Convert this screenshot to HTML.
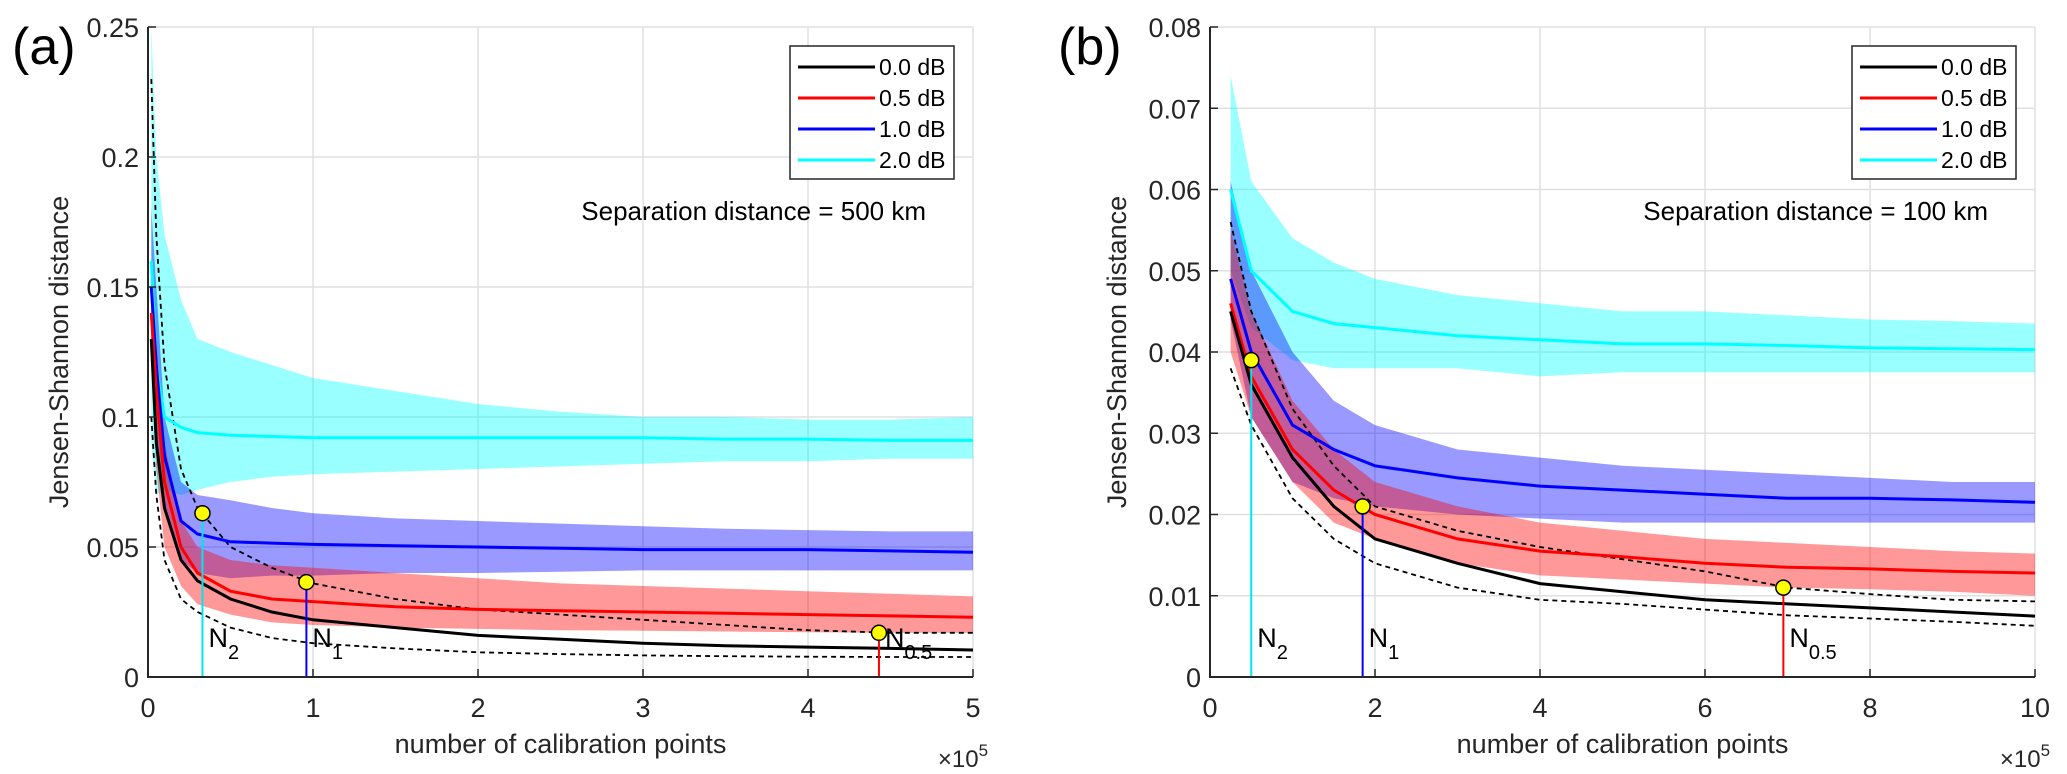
<!DOCTYPE html>
<html><head><meta charset="utf-8"><style>
html,body{margin:0;padding:0;background:#fff;}
svg{display:block;font-family:"Liberation Sans",Arial,sans-serif;}
</style></head><body>
<svg id="fig" width="2067" height="774" viewBox="0 0 2067 774" xmlns="http://www.w3.org/2000/svg"></svg>
<script>
// ---------- Panel (a) data (x in units of 1e5) ----------
const aX = [0.02,0.05,0.1,0.2,0.3,0.5,0.75,1,1.5,2,2.5,3,3.5,4,4.5,5];
const aBlack = [0.13,0.09,0.065,0.045,0.037,0.03,0.025,0.022,0.019,0.016,0.0145,0.013,0.012,0.0115,0.011,0.0104];
const aBlackLo = [0.1,0.07,0.045,0.03,0.025,0.019,0.015,0.013,0.011,0.0095,0.0088,0.0083,0.008,0.0078,0.0077,0.0077];
const aBlackHi = [0.23,0.17,0.12,0.08,0.065,0.05,0.042,0.036,0.03,0.026,0.024,0.022,0.02,0.018,0.017,0.017];
const aRed = [0.14,0.11,0.075,0.05,0.04,0.033,0.03,0.029,0.027,0.026,0.0255,0.025,0.0245,0.024,0.0235,0.023];
const aRedHi = [0.16,0.13,0.09,0.06,0.05,0.045,0.043,0.042,0.04,0.038,0.036,0.035,0.034,0.033,0.032,0.031];
const aRedLo = [0.12,0.08,0.05,0.035,0.028,0.024,0.021,0.02,0.019,0.0185,0.018,0.0178,0.0175,0.0172,0.017,0.017];
const aBlue = [0.15,0.12,0.085,0.06,0.055,0.052,0.0515,0.051,0.0505,0.05,0.0495,0.049,0.049,0.049,0.0485,0.048];
const aBlueHi = [0.18,0.15,0.1,0.075,0.07,0.068,0.065,0.063,0.061,0.06,0.059,0.058,0.057,0.0565,0.056,0.056];
const aBlueLo = [0.12,0.09,0.065,0.045,0.04,0.038,0.039,0.039,0.04,0.04,0.0405,0.041,0.041,0.041,0.041,0.041];
const aCyan = [0.16,0.12,0.1,0.096,0.094,0.093,0.0925,0.092,0.092,0.092,0.092,0.092,0.0915,0.0915,0.091,0.091];
const aCyanHi = [0.25,0.2,0.17,0.145,0.13,0.125,0.12,0.115,0.11,0.105,0.102,0.1,0.1,0.099,0.099,0.1];
const aCyanLo = [0.09,0.07,0.072,0.07,0.072,0.075,0.077,0.078,0.079,0.08,0.081,0.082,0.083,0.083,0.084,0.084];
const aMarkX = [0.33,0.96,4.43];
const aMarkY = [0.063,0.0365,0.017];
const aXTicks = ["0","1","2","3","4","5"];
const aYTicks = ["0","0.05","0.1","0.15","0.2","0.25"];

// ---------- Panel (b) data ----------
const bX = [0.25,0.5,1,1.5,2,3,4,5,6,7,8,9,10];
const bBlack = [0.045,0.036,0.027,0.021,0.017,0.014,0.0115,0.0105,0.0095,0.009,0.0085,0.008,0.0075];
const bBlackLo = [0.038,0.031,0.022,0.017,0.014,0.011,0.0095,0.009,0.0083,0.0076,0.0072,0.0068,0.0063];
const bBlackHi = [0.056,0.045,0.033,0.026,0.021,0.018,0.016,0.0145,0.013,0.011,0.0102,0.0095,0.0093];
const bRed = [0.046,0.037,0.028,0.023,0.02,0.017,0.0155,0.0148,0.014,0.0135,0.0133,0.013,0.0128];
const bRedHi = [0.055,0.045,0.034,0.028,0.024,0.021,0.019,0.018,0.017,0.0165,0.016,0.0155,0.0152];
const bRedLo = [0.04,0.032,0.024,0.019,0.017,0.014,0.0125,0.012,0.0115,0.011,0.0108,0.0105,0.01];
const bBlue = [0.049,0.04,0.031,0.028,0.026,0.0245,0.0235,0.023,0.0225,0.022,0.022,0.0218,0.0215];
const bBlueHi = [0.061,0.05,0.04,0.034,0.031,0.028,0.027,0.026,0.0255,0.025,0.0245,0.024,0.024];
const bBlueLo = [0.044,0.032,0.024,0.022,0.021,0.02,0.0195,0.019,0.019,0.019,0.019,0.019,0.019];
const bCyan = [0.06,0.05,0.045,0.0435,0.043,0.042,0.0415,0.041,0.041,0.0408,0.0405,0.0404,0.0403];
const bCyanHi = [0.074,0.061,0.054,0.051,0.049,0.047,0.046,0.045,0.045,0.0445,0.044,0.0438,0.0435];
const bCyanLo = [0.05,0.043,0.039,0.038,0.038,0.038,0.037,0.0375,0.0375,0.0375,0.0375,0.0375,0.0375];
const bMarkX = [0.5,1.85,6.95];
const bMarkY = [0.039,0.021,0.011];
const bXTicks = ["0","2","4","6","8","10"];
const bYTicks = ["0","0.01","0.02","0.03","0.04","0.05","0.06","0.07","0.08"];

const legendLabels = ["0.0 dB","0.5 dB","1.0 dB","2.0 dB"];
const markLabels = ["2","1","0.5"];

const NS = "http://www.w3.org/2000/svg";
const svg = document.getElementById("fig");
function mk(tag, attrs, parent){
  const e = document.createElementNS(NS, tag);
  for (const k in attrs) e.setAttribute(k, attrs[k]);
  (parent||svg).appendChild(e);
  return e;
}

function panel(o){
  const g = mk("g",{});
  
  
  const L=o.L,R=o.R,T=27,B=677;
  const sx = v => L + (v - 0)/(o.xMax)*(R-L);
  const sy = v => B - v/o.yMax*(B-T);
  o.xTicks.forEach((t,i)=>{
    const x = sx(parseFloat(t));
    const gl = mk("line",{x1:x,x2:x,y1:T,y2:B,stroke:"#e0e0e0","stroke-width":1.5},g);
    
    
  });
  o.yTicks.forEach((t,i)=>{
    const y = sy(parseFloat(t));
    const gl = mk("line",{x1:L,x2:R,y1:y,y2:y,stroke:"#e0e0e0","stroke-width":1.5},g);
    
    
  });
  const bandPath = (xs,hi,lo) => {
    let d = "M"+xs.map((x,i)=>sx(x).toFixed(1)+","+sy(Math.min(hi[i],o.yMax)).toFixed(1)).join("L");
    for (let i=xs.length-1;i>=0;i--) d += "L"+sx(xs[i]).toFixed(1)+","+sy(lo[i]).toFixed(1);
    return d+"Z";
  };
  const linePath = (xs,ys) => "M"+xs.map((x,i)=>sx(x).toFixed(1)+","+sy(Math.min(ys[i],o.yMax)).toFixed(1)).join("L");
  const cyanBand = mk("path",{d:bandPath(o.x,o.cyanHi,o.cyanLo),fill:"#00ffff","fill-opacity":0.4},g);
  
  
  const blueBand = mk("path",{d:bandPath(o.x,o.blueHi,o.blueLo),fill:"#0000ff","fill-opacity":0.4},g);
  
  
  const redBand = mk("path",{d:bandPath(o.x,o.redHi,o.redLo),fill:"#ff0000","fill-opacity":0.4},g);
  
  
  const dLo = mk("path",{d:linePath(o.x,o.blackLo),fill:"none",stroke:"#000","stroke-width":1.8,"stroke-dasharray":"5,4"},g);
  
  
  const dHi = mk("path",{d:linePath(o.x,o.blackHi),fill:"none",stroke:"#000","stroke-width":1.8,"stroke-dasharray":"5,4"},g);
  
  
  const cols = ["#000000","#ff0000","#0000ff","#00ffff"];
  const means = [o.black,o.red,o.blue,o.cyan];
  const nm = ["line-0db","line-0.5db","line-1db","line-2db"];
  [3,2,1,0].forEach(i=>{
    const p = mk("path",{d:linePath(o.x,means[i]),fill:"none",stroke:cols[i],"stroke-width":3},g);
    
    
  });
  const mcols = ["#00e5ee","#0000ff","#ff0000"];
  o.markX.forEach((mx,i)=>{
    const x = sx(mx), y = sy(o.markY[i]);
    const vl = mk("line",{x1:x,x2:x,y1:y,y2:B,stroke:mcols[i],"stroke-width":2},g);
    
    
    const c = mk("circle",{cx:x,cy:y,r:7.5,fill:"#ffff00",stroke:"#000","stroke-width":1.5},g);
    
    
    const t = mk("text",{x:x+6,y:B-30,"font-size":27,fill:"#000"},g);
    
    
    t.textContent = "N";
    const s = mk("tspan",{dy:12,"font-size":20},t);
    s.textContent = markLabels[i];
  });
  const ax = mk("path",{d:`M${L},${T}L${L},${B}L${R},${B}`,fill:"none",stroke:"#262626","stroke-width":2},g);
  
  
  o.xTicks.forEach(t=>{
    const x = sx(parseFloat(t));
    mk("line",{x1:x,x2:x,y1:B,y2:B-8,stroke:"#262626","stroke-width":1.5},g);
    const tl = mk("text",{x:x,y:717,"font-size":27,"text-anchor":"middle",fill:"#262626"},g);
    
    
    tl.textContent = t;
  });
  o.yTicks.forEach(t=>{
    const y = sy(parseFloat(t));
    mk("line",{x1:L,x2:L+8,y1:y,y2:y,stroke:"#262626","stroke-width":1.5},g);
    const tl = mk("text",{x:L-9,y:y+10,"font-size":27,"text-anchor":"end",fill:"#262626"},g);
    
    
    tl.textContent = t;
  });
  const xt = mk("text",{x:(L+R)/2,y:753,"font-size":27,"text-anchor":"middle",fill:"#262626"},g);
  
  
  xt.textContent = "number of calibration points";
  const ex = mk("text",{x:R-10,y:767,"font-size":24,"text-anchor":"middle",fill:"#262626"},g);
  
  
  ex.textContent = "\u00d710";
  const es = mk("tspan",{dy:-11,"font-size":17},ex);
  es.textContent = "5";
  const yt = mk("text",{x:0,y:0,"font-size":27,"text-anchor":"middle",fill:"#262626",transform:`translate(${o.yTitleX},${(T+B)/2}) rotate(-90)`},g);
  
  
  yt.textContent = "Jensen-Shannon distance";
  const pl = mk("text",{x:o.labX,y:64,"font-size":52,fill:"#000"},g);
  
  
  pl.textContent = o.label;
  const an = mk("text",{x:R-47,y:220,"font-size":26,"text-anchor":"end",fill:"#000"},g);
  
  
  an.textContent = o.note;
  const lx = R-183, ly = 46;
  const lg = mk("g",{},g);
  
  
  mk("rect",{x:lx,y:ly,width:164,height:133,fill:"#fff",stroke:"#262626","stroke-width":1.5},lg);
  legendLabels.forEach((lab,i)=>{
    const y = ly+21+i*31;
    const ln = mk("line",{x1:lx+8,x2:lx+85,y1:y,y2:y,stroke:cols[i],"stroke-width":3},lg);
    
    
    const lt = mk("text",{x:lx+89,y:y+8,"font-size":23,fill:"#000"},lg);
    
    
    lt.textContent = lab;
  });
}

panel({name:"panel-a",L:148,R:973,xMax:5,yMax:0.25,x:aX,black:aBlack,blackLo:aBlackLo,blackHi:aBlackHi,
  red:aRed,redHi:aRedHi,redLo:aRedLo,blue:aBlue,blueHi:aBlueHi,blueLo:aBlueLo,cyan:aCyan,cyanHi:aCyanHi,cyanLo:aCyanLo,
  markX:aMarkX,markY:aMarkY,xTicks:aXTicks,yTicks:aYTicks,yTitleX:68,labX:12,label:"(a)",note:"Separation distance = 500 km"});
panel({name:"panel-b",L:1210,R:2035,xMax:10,yMax:0.08,x:bX,black:bBlack,blackLo:bBlackLo,blackHi:bBlackHi,
  red:bRed,redHi:bRedHi,redLo:bRedLo,blue:bBlue,blueHi:bBlueHi,blueLo:bBlueLo,cyan:bCyan,cyanHi:bCyanHi,cyanLo:bCyanLo,
  markX:bMarkX,markY:bMarkY,xTicks:bXTicks,yTicks:bYTicks,yTitleX:1126,labX:1058,label:"(b)",note:"Separation distance = 100 km"});
</script>
</body></html>
